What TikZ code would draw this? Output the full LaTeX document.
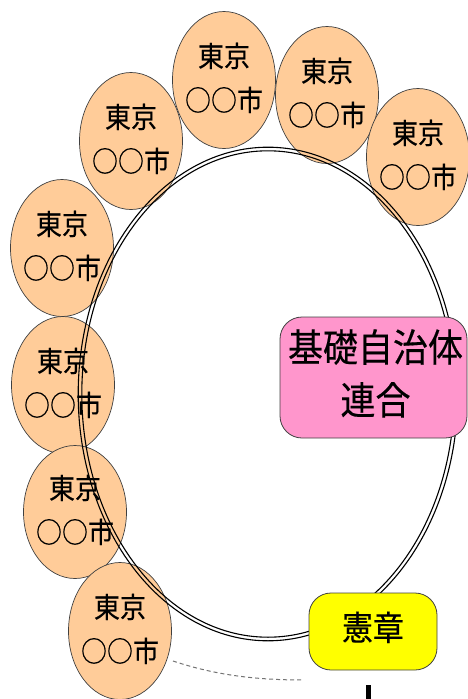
\documentclass[tikz,border=0pt]{standalone}
\usepackage{fontspec}
\usepackage{graphicx}
\usetikzlibrary{shapes.geometric}
\newfontfamily\jp[FakeBold=0.4]{Noto Sans CJK JP}
\definecolor{orangefill}{RGB}{255,204,153}
\definecolor{pinkfill}{RGB}{255,150,204}
\definecolor{yellowfill}{RGB}{255,255,0}
\newcommand{\stretchtext}[1]{\scalebox{1}[1.1]{\begin{tabular}{@{}c@{}}#1\end{tabular}}}
\begin{document}
\begin{tikzpicture}[x=1pt,y=-1pt,
  city/.style={ellipse, draw=black!75, line width=0.7pt, fill=orangefill,
    inner sep=0pt, minimum width=103pt, minimum height=137pt},
  citytext/.style={inner sep=0pt, font=\jp\fontsize{26}{40}\selectfont},
  ring/.style={draw=black, line width=1.1pt},
  rbox/.style={rounded corners=22pt, draw=black!75, line width=0.8pt,
    inner sep=0pt, align=center},
  conn/.style={dashed, dash pattern=on 4pt off 3pt, draw=black!55, line width=1pt},
  stem/.style={draw=black, line width=5pt}
]
\useasboundingbox (0,0) rectangle (468,699);

% member cities
\node[city] (e1) at (224,80) {};
\node[citytext] (t1) at (e1) {\stretchtext{東京\\○○市}};
\node[city] (e2) at (327,95) {};
\node[citytext] (t2) at (e2) {\stretchtext{東京\\○○市}};
\node[city] (e3) at (418,157) {};
\node[citytext] (t3) at (e3) {\stretchtext{東京\\○○市}};
\node[city] (e4) at (131,141) {};
\node[citytext] (t4) at (e4) {\stretchtext{東京\\○○市}};
\node[city] (e5) at (62,248) {};
\node[citytext] (t5) at (e5) {\stretchtext{東京\\○○市}};
\node[city] (e6) at (63,385) {};
\node[citytext] (t6) at (e6) {\stretchtext{東京\\○○市}};
\node[city, minimum height=133pt] (e7) at (75,512) {};
\node[citytext] (t7) at (e7) {\stretchtext{東京\\○○市}};
\node[city] (e8) at (120,631) {};
\node[citytext] (t8) at (e8) {\stretchtext{東京\\○○市}};

% federation ring (double line with transparent gap)
\coordinate (ringc) at (268,394);
\draw[ring] (ringc) ellipse [x radius=189.8, y radius=246.8];
\draw[ring] (ringc) ellipse [x radius=186.2, y radius=243.2];

% boxes
\node[rbox, fill=pinkfill, minimum width=187pt, minimum height=121pt,
  font=\jp\fontsize{35}{48}\selectfont] (fed) at (373.5,377.5)
  {\hspace{4pt}\stretchtext{基礎自治体\\連合}};
\node[rbox, fill=yellowfill, minimum width=128pt, minimum height=77pt,
  font=\jp\fontsize{31}{40}\selectfont] (charter) at (373,631.5)
  {\raisebox{-3pt}{\stretchtext{憲章}}};

% connectors
\coordinate (d1) at (173,661);
\coordinate (d2) at (304,680);
\draw[conn] (d1) .. controls (215,675) and (255,680) .. (d2);
\coordinate (v1) at (368,685);
\coordinate (v2) at (368,702);
\draw[stem] (v1) -- (v2);
\end{tikzpicture}
\end{document}
